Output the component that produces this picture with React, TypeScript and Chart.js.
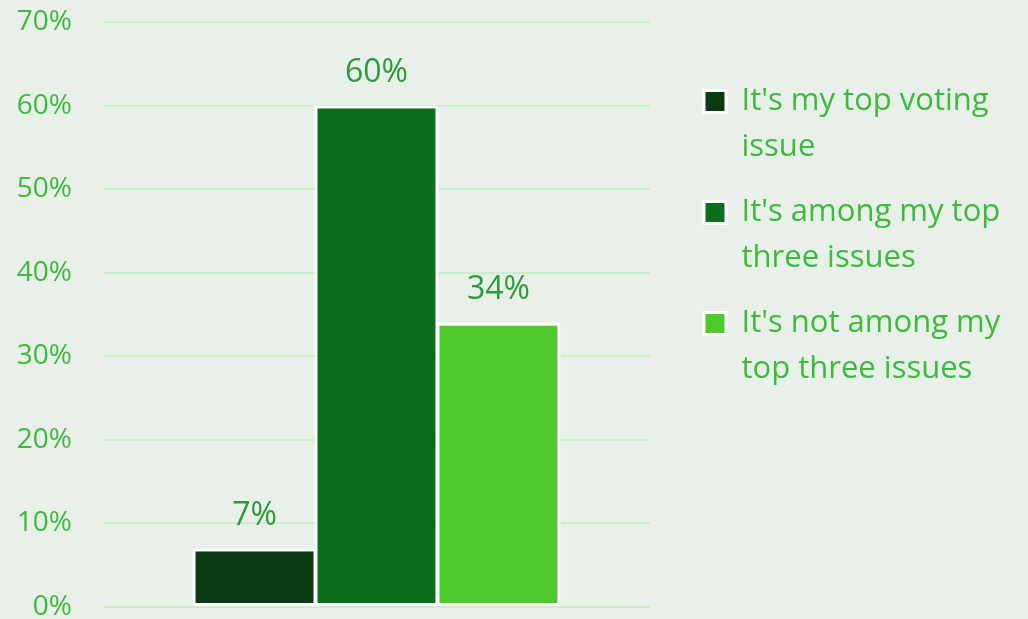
import React, { useEffect, useRef } from "react";
import { Chart, registerables } from "chart.js";

Chart.register(...registerables);

const categories = [""];
const seriesNames = [
  ["It's my top voting", "issue"],
  ["It's among my top", "three issues"],
  ["It's not among my", "top three issues"],
];
const seriesValues = [7, 60, 34];
const seriesColors = ["#0c3a12", "#0a6e1d", "#4ecb2b"];
const yTicks = [0, 10, 20, 30, 40, 50, 60, 70];

const BG = "#e9f0ea";
const TICK_COLOR = "#3bba3b";
const LABEL_COLOR = "#2b9b37";
const LEGEND_WIDTH = 343;

const dataLabelPlugin = {
  id: "dataLabels",
  afterDatasetsDraw(chart: any) {
    const ctx = chart.ctx;
    ctx.save();
    ctx.font = "32px 'Open Sans'";
    ctx.fillStyle = LABEL_COLOR;
    ctx.textAlign = "center";
    ctx.textBaseline = "middle";
    chart.data.datasets.forEach((ds: any, i: number) => {
      const meta = chart.getDatasetMeta(i);
      meta.data.forEach((bar: any, j: number) => {
        ctx.fillText(ds.data[j] + "%", bar.x, bar.y - 33);
      });
    });
    ctx.restore();
  },
};

const legendWidthPlugin = {
  id: "legendWidth",
  afterInit(chart: any) {
    const lg = chart.legend;
    if (!lg) return;
    const orig = lg.fit.bind(lg);
    lg.fit = function () {
      orig();
      this.width = LEGEND_WIDTH;
    };
  },
};

export default function App() {
  const ref = useRef<HTMLCanvasElement>(null);
  useEffect(() => {
    const chart = new Chart(ref.current!, {
      type: "bar",
      data: {
        labels: categories,
        datasets: seriesNames.map((name, i) => ({
          label: name.join(" "),
          data: [seriesValues[i]],
          backgroundColor: seriesColors[i],
          borderColor: "#ffffff",
          borderWidth: 3,
          borderSkipped: false,
          categoryPercentage: 0.669,
          barPercentage: 1.016,
        })),
      },
      plugins: [legendWidthPlugin, dataLabelPlugin],
      options: {
        animation: false,
        responsive: true,
        maintainAspectRatio: false,
        layout: { padding: { top: 22, bottom: 12, left: 0, right: 0 } },
        scales: {
          x: { display: false },
          y: {
            min: 0,
            max: 70,
            afterBuildTicks: (s: any) => {
              s.ticks = yTicks.map((v) => ({ value: v }));
            },
            afterFit: (s: any) => {
              s.width = 103;
            },
            ticks: {
              color: TICK_COLOR,
              padding: 0,
              font: { family: "'Open Sans'", size: 28, lineHeight: 0.8 },
              callback: (v: any) => v + "%",
            },
            grid: { color: "#cbeecb", lineWidth: 2, drawTicks: true, tickLength: 31, tickColor: "rgba(0,0,0,0)" },
            border: { display: false },
          },
          yR: {
            position: "right",
            display: true,
            grid: { display: false },
            ticks: { display: false },
            border: { display: false },
            afterFit: (s: any) => {
              s.width = 35;
            },
          },
        },
        plugins: {
          tooltip: { enabled: false },
          legend: {
            position: "right",
            align: "start",
            title: { display: true, text: "", font: { size: 10, lineHeight: 1 }, padding: { top: 35, bottom: 0 } },
            labels: {
              boxWidth: 22,
              boxHeight: 22,
              padding: 19,
              color: TICK_COLOR,
              font: { family: "'Open Sans'", size: 31, lineHeight: 1.484 },
              generateLabels: () =>
                seriesNames.map((name, i) => ({
                  text: name as any,
                  fillStyle: seriesColors[i],
                  strokeStyle: "#ffffff",
                  lineWidth: 3,
                  hidden: false,
                  datasetIndex: i,
                  fontColor: TICK_COLOR,
                })),
            },
          },
        },
      } as any,
    });
    return () => chart.destroy();
  }, []);
  return (
    <div style={{ position: "fixed", left: 0, top: 0, width: 1028, height: 619, background: BG }}>
      <canvas ref={ref} />
    </div>
  );
}
